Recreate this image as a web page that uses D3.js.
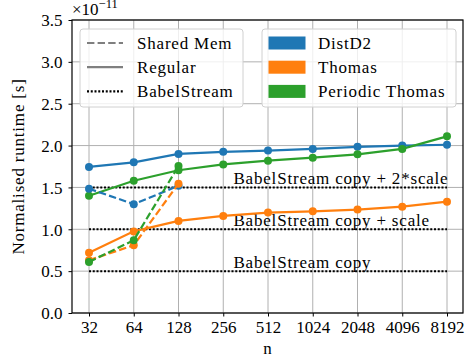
<!DOCTYPE html>
<html>
<head>
<meta charset="utf-8">
<script src="https://cdn.jsdelivr.net/npm/d3@7"></script>
</head>
<body style="margin:0; background:#fff">
<div id="chart-area"></div>
<script>
// chart values (units of 1e-11 s)
const nValues = [32, 64, 128, 256, 512, 1024, 2048, 4096, 8192]
const distD2 = [1.745, 1.80, 1.90, 1.925, 1.94, 1.96, 1.985, 2.00, 2.01]
const thomas = [0.72, 0.975, 1.10, 1.16, 1.20, 1.215, 1.235, 1.27, 1.33]
const periodicThomas = [1.40, 1.58, 1.705, 1.775, 1.82, 1.855, 1.895, 1.96, 2.11]

const sharedN = [32, 64, 128]
const distD2Shared = [1.485, 1.30, 1.52]
const thomasShared = [0.63, 0.81, 1.545]
const periodicThomasShared = [0.61, 0.87, 1.755]

const babelLevels = [0.5, 1.0, 1.5]
const babelLabels = ["BabelStream copy", "BabelStream copy + scale", "BabelStream copy + 2*scale"]
const yTicks = [0.0, 0.5, 1.0, 1.5, 2.0, 2.5, 3.0, 3.5]

const algNames = ["DistD2", "Thomas", "Periodic Thomas"]
const algColors = ["#1f77b4", "#ff7f0e", "#2ca02c"]

const FONT = "'Liberation Serif'"
const FS = "17px"
const LS = "0.8px"   // widen words a bit, LaTeX font runs wider

function main() {
  const W = 469, H = 364
  const PLOT = { LEFT: 72, RIGHT: 463, TOP: 20, BOTTOM: 313 }

  const svg = d3.select("#chart-area").append("svg")
    .attr("width", W)
    .attr("height", H)

  const x = d3.scaleLog().base(2)
    .domain([32, 8192])
    .range([89, 447])

  const y = d3.scaleLinear()
    .domain([0, 3.5])
    .range([PLOT.BOTTOM, PLOT.TOP])

  // grid
  const grid = svg.append("g")
  grid.selectAll(".gx").data(nValues).enter().append("line")
    .attr("x1", d => x(d)).attr("x2", d => x(d))
    .attr("y1", PLOT.TOP).attr("y2", PLOT.BOTTOM)
    .attr("stroke", "#b0b0b0").attr("stroke-width", 1)
  grid.selectAll(".gy").data(yTicks).enter().append("line")
    .attr("x1", PLOT.LEFT).attr("x2", PLOT.RIGHT)
    .attr("y1", d => y(d)).attr("y2", d => y(d))
    .attr("stroke", "#b0b0b0").attr("stroke-width", 1)

  // BabelStream reference lines
  babelLevels.forEach((lvl, i) => {
    svg.append("path")
      .attr("d", d3.line()([[x(32), y(lvl)], [x(8192), y(lvl)]]))
      .attr("stroke", "#000").attr("stroke-width", 2)
      .attr("stroke-dasharray", "2,1.75")
      .attr("fill", "none")
    svg.append("text")
      .attr("x", x(300))
      .attr("y", y(lvl) - 3)
      .style("font-family", FONT).style("font-size", FS)
      .style("letter-spacing", LS)
      .text(babelLabels[i])
  })

  const line = d3.line()
    .x(d => x(d[0]))
    .y(d => y(d[1]))

  function drawSeries(ns, vals, color, dash) {
    const pts = ns.map((n, i) => [n, vals[i]])
    svg.append("path")
      .attr("d", line(pts))
      .attr("stroke", color).attr("stroke-width", 2.2)
      .attr("stroke-dasharray", dash)
      .attr("fill", "none")
    svg.append("g").selectAll("circle").data(pts).enter().append("circle")
      .attr("cx", d => x(d[0]))
      .attr("cy", d => y(d[1]))
      .attr("r", 4)
      .attr("fill", color)
  }

  const regular = [distD2, thomas, periodicThomas]
  const shared = [distD2Shared, thomasShared, periodicThomasShared]
  regular.forEach((vals, i) => drawSeries(nValues, vals, algColors[i], null))
  shared.forEach((vals, i) => drawSeries(sharedN, vals, algColors[i], "7.4,3.2"))

  // frame
  svg.append("rect")
    .attr("x", PLOT.LEFT).attr("y", PLOT.TOP)
    .attr("width", PLOT.RIGHT - PLOT.LEFT)
    .attr("height", PLOT.BOTTOM - PLOT.TOP)
    .attr("fill", "none").attr("stroke", "#000").attr("stroke-width", 1.2)

  // axes
  const xAxis = d3.axisBottom(x).tickValues(nValues).tickFormat(d3.format("d")).tickSize(3.5).tickPadding(4)
  const gx = svg.append("g")
    .attr("transform", `translate(0, ${PLOT.BOTTOM})`)
    .call(xAxis)
  const yAxis = d3.axisLeft(y).tickValues(yTicks).tickFormat(d3.format(".1f")).tickSize(3.5).tickPadding(6)
  const gy = svg.append("g")
    .attr("transform", `translate(${PLOT.LEFT}, 0)`)
    .call(yAxis)
  ;[gx, gy].forEach(g => {
    g.attr("font-family", null).attr("font-size", null)
    g.select(".domain").remove()
    g.selectAll("line").attr("stroke", "#000").attr("stroke-width", 1)
    g.selectAll("text")
      .style("font-family", FONT)
      .style("font-size", FS).attr("fill", "#000")
  })
  gy.selectAll("text").attr("dy", "0.34em")

  // offset text
  const off = svg.append("text")
    .attr("x", PLOT.LEFT)
    .attr("y", 15)
    .style("font-family", FONT).style("font-size", FS)
  off.append("tspan").text("×10")
  off.append("tspan").attr("dy", -7).style("font-size", "12.5px").text("−11")

  // axis labels
  svg.append("text")
    .attr("x", (PLOT.LEFT + PLOT.RIGHT) / 2)
    .attr("y", 354)
    .attr("text-anchor", "middle")
    .style("font-family", FONT).style("font-size", FS)
    .text("n")
  svg.append("text")
    .attr("transform", `translate(24, ${(PLOT.TOP + PLOT.BOTTOM) / 2}) rotate(-90)`)
    .attr("text-anchor", "middle")
    .style("font-family", FONT).style("font-size", FS)
    .style("letter-spacing", LS)
    .text("Normalised runtime [s]")

  // legend: line styles
  const styleNames = ["Shared Mem", "Regular", "BabelStream"]
  const styleDash = ["7.4,3.2", null, "2,1.75"]
  const styleColor = ["#7f7f7f", "#7f7f7f", "#000"]
  const leg1 = svg.append("g").attr("transform", "translate(80, 29)")
  leg1.append("rect")
    .attr("width", 163).attr("height", 78).attr("rx", 3)
    .attr("fill", "#fff").attr("fill-opacity", 0.8)
    .attr("stroke", "#d0d0d0").attr("stroke-width", 1)
  styleNames.forEach((name, i) => {
    const row = leg1.append("g").attr("transform", `translate(0, ${14 + i * 24.2})`)
    row.append("path")
      .attr("d", d3.line()([[7, 0], [43, 0]]))
      .attr("stroke", styleColor[i]).attr("stroke-width", 2.2)
      .attr("stroke-dasharray", styleDash[i])
    row.append("text")
      .attr("x", 57).attr("y", 5.5)
      .style("font-family", FONT).style("font-size", FS)
      .style("letter-spacing", LS)
      .text(name)
  })

  // legend: algorithms
  const leg2 = svg.append("g").attr("transform", "translate(262, 29)")
  leg2.append("rect")
    .attr("width", 194).attr("height", 78).attr("rx", 3)
    .attr("fill", "#fff").attr("fill-opacity", 0.8)
    .attr("stroke", "#d0d0d0").attr("stroke-width", 1)
  algNames.forEach((name, i) => {
    const row = leg2.append("g").attr("transform", `translate(0, ${14 + i * 24.2})`)
    row.append("rect")
      .attr("x", 6.5).attr("y", -6.5)
      .attr("width", 37).attr("height", 13)
      .attr("fill", algColors[i])
    row.append("text")
      .attr("x", 56).attr("y", 5.5)
      .style("font-family", FONT).style("font-size", FS)
      .style("letter-spacing", LS)
      .text(name)
  })
}

main()
</script>
</body>
</html>
